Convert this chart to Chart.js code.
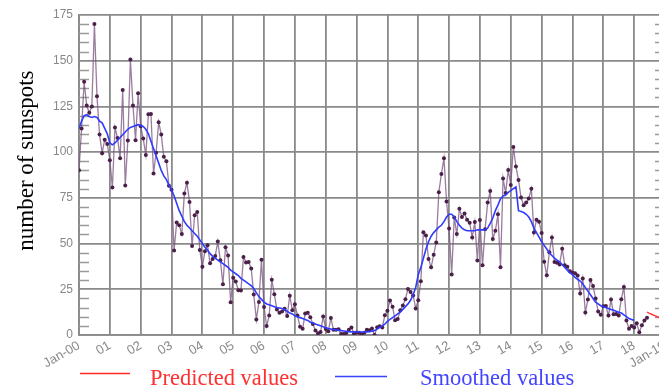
<!DOCTYPE html>
<html><head><meta charset="utf-8">
<script src="https://cdn.jsdelivr.net/npm/chart.js@4.4.1/dist/chart.umd.min.js"></script>
<style>
html,body{margin:0;padding:0;overflow:hidden;background:#fff;width:659px;height:387px}
#wrap{position:relative;width:680px;height:387px}
</style></head>
<body><div id="wrap"><canvas id="c" width="680" height="387"></canvas></div>
<script>
// Monthly sunspot numbers, Jan 2000 - Jun 2018
const observed = [
  90.1,112.9,138.5,125.5,121.6,124.9,170.1,130.5,109.7,99.4,106.8,104.4,
  95.6,80.6,113.5,107.7,96.6,134.0,81.8,106.4,150.7,125.5,106.5,132.2,
  114.1,107.4,98.4,120.7,120.8,88.3,99.6,116.4,109.6,97.5,95.0,81.6,
  79.5,46.2,61.5,60.0,55.2,77.4,83.3,72.7,48.7,65.5,67.3,46.5,
  37.3,45.8,49.1,39.3,41.5,43.2,51.1,40.9,27.7,48.0,43.5,17.9,
  31.3,29.2,24.5,24.4,42.6,39.6,39.9,36.4,22.1,8.5,18.0,41.2,
  15.3,4.9,10.6,30.2,22.3,13.9,12.2,12.9,14.4,10.4,21.5,13.6,
  16.8,10.7,4.5,3.4,11.7,12.1,9.7,6.0,2.4,0.9,1.7,10.1,
  3.3,2.1,9.3,2.9,2.9,3.1,0.5,0.5,1.1,2.9,4.1,0.8,
  1.3,1.2,0.6,1.2,2.9,2.6,3.5,0.0,4.3,4.8,4.1,10.8,
  13.2,18.8,15.4,8.0,8.7,13.6,16.1,19.6,25.2,23.5,21.6,14.5,
  19.0,29.4,56.2,54.4,41.6,37.0,43.9,50.6,78.0,88.0,96.7,73.0,
  58.3,33.1,64.3,55.2,69.0,64.5,66.5,63.0,61.4,53.3,61.8,40.8,
  62.9,38.1,57.9,72.4,78.7,52.5,57.0,66.0,37.0,85.6,77.6,90.3,
  82.0,102.8,92.2,84.7,75.2,71.0,72.4,74.6,80.0,56.0,63.0,62.0,
  55.8,40.0,32.7,45.2,53.3,39.9,39.5,38.6,47.2,38.2,37.3,34.8,
  34.2,33.8,32.5,22.7,30.9,12.3,19.4,30.1,26.8,20.0,12.8,11.1,
  15.7,15.8,10.6,19.4,11.3,11.5,10.7,19.6,26.2,7.9,3.4,4.9,
  4.1,6.4,1.5,5.3,7.9,9.4
];
// Smoothed values, Jan 2000 - Jan 2018
const smoothed = [
  113,117,120,120.5,119.5,119,119.5,119,117,116,113,110,
  105,104,105,106.5,108,109.5,111,112.5,113.5,114,114.5,115,
  114.5,114,112.5,110,106,102,98,94,90,87,85,82,
  79.5,76,72,68,65,62,60,58.5,57,55.5,54,52,
  50,48,46.5,44.5,43,42,41,40,39,38,37,35.5,
  34.5,33.5,32.5,31,30,29,28,27,25.5,23,21,19.5,
  18,17,16.5,16,15.5,15,14.8,14.5,14,13,12,11.5,
  10.5,10,9.5,9,8.5,8,7,6.5,6,5.5,5,4.5,
  4,3.5,3.2,3,2.8,2.6,2.4,2.2,2,1.8,1.7,1.7,
  1.6,1.6,1.6,1.6,1.7,1.8,2.0,2.5,3.2,4.2,5.0,6.0,
  7.5,8.5,9.5,10.5,11.5,12.5,14,15.5,17,19,22,26,
  33,37,42,47,51,54,56,57.5,59,60,62,64.5,
  66,66,64.5,62,60,58.5,57.5,57,57,57,57,57.5,
  57.5,57.5,57.5,58.5,61,64,68,71,74.5,76,76.5,78,
  79,80,81,68,67.5,67,66,64.5,62,58.5,56,53.5,
  51,49,47,45,43.5,42,41,40,38.5,37,35.5,34,
  33,31.5,30.5,29.5,28,26,24,22,20,18,17,16,
  15.5,15,14.5,14,13.5,13,12.5,12,11,10,9,8.5,
  8
];
// Predicted values, Jun 2018 - Jan 2019
const predictedStartMonth = 221;
const predicted = [12.5,11.8,11.2,10.6,10.0,9.4,8.9,8.4];

const yMajorTicks = [0,25,50,75,100,125,150,175];
const xTickLabels = ['Jan-00','01','02','03','04','05','06','07','08','09','10','11','12','13','14','15','16','17','18','Jan-19'];
const legendLabels = ['Predicted values','Smoothed values'];
const yTitle = 'number of sunspots';

const toPts = (arr, start) => arr.map((v,i)=>({x:(start+i)/12, y:v}));

const GRID = '#8a8a8a';
const TICKC = '#888888';

const minorTicks = {
  id:'minorTicks',
  beforeDatasetsDraw(chart){
    const {ctx, chartArea:a, scales:{y}} = chart;
    ctx.save();
    ctx.strokeStyle = '#9a9a9a'; ctx.lineWidth = 1.4;
    for (let v=5; v<175; v+=5){
      if (yMajorTicks.includes(v)) continue;
      const py = Math.round(y.getPixelForValue(v))+0.5;
      ctx.beginPath();
      ctx.moveTo(a.left, py); ctx.lineTo(a.left+10, py);
      ctx.moveTo(a.right-10, py); ctx.lineTo(a.right, py);
      ctx.stroke();
    }
    ctx.restore();
  }
};

const extras = {
  id:'extras',
  afterDraw(chart){
    const {ctx, chartArea:a} = chart;
    ctx.save();
    // y-axis title
    ctx.translate(27, a.top + a.height*0.455);
    ctx.rotate(-Math.PI/2);
    ctx.font = '23px "Liberation Serif", "Times New Roman", serif';
    ctx.fillStyle = '#000';
    ctx.textAlign = 'center'; ctx.textBaseline = 'middle';
    ctx.fillText(yTitle, 0, 0);
    ctx.restore();
    // legend
    ctx.save();
    ctx.font = '22.5px "Liberation Serif", "Times New Roman", serif';
    ctx.textBaseline = 'alphabetic'; ctx.textAlign = 'left';
    ctx.lineWidth = 1.5;
    ctx.strokeStyle = '#ff2a2a';
    ctx.beginPath(); ctx.moveTo(80,373.5); ctx.lineTo(130,373.5); ctx.stroke();
    ctx.fillStyle = '#ff3030';
    ctx.fillText(legendLabels[0], 150, 385);
    ctx.strokeStyle = '#3a44ff';
    ctx.beginPath(); ctx.moveTo(335,376.5); ctx.lineTo(387,376.5); ctx.stroke();
    ctx.fillStyle = '#4444ff';
    ctx.fillText(legendLabels[1], 420, 385);
    ctx.restore();
  }
};

new Chart(document.getElementById('c'), {
  type:'line',
  data:{datasets:[
    {label:'Monthly values', data:toPts(observed,0), borderColor:'rgba(120,80,125,0.75)', borderWidth:1.3,
     pointRadius:2, pointBackgroundColor:'#4a1f48', pointBorderWidth:0, tension:0, order:3},
    {label:legendLabels[1], data:toPts(smoothed,0), borderColor:'#2f3cff', borderWidth:1.6, pointRadius:0, tension:0, order:1},
    {label:legendLabels[0], data:toPts(predicted,predictedStartMonth), borderColor:'#ff3b3b', borderWidth:1.5, pointRadius:0, tension:0, order:2}
  ]},
  options:{
    responsive:false, animation:false, devicePixelRatio:1,
    layout:{padding:{left:0,top:15,right:15,bottom:0}},
    plugins:{legend:{display:false}, tooltip:{enabled:false}},
    scales:{
      x:{type:'linear', min:0, max:19,
        afterFit(s){ s.height = 52; },
        ticks:{stepSize:1, autoSkip:false, minRotation:30, maxRotation:30, padding:3,
          color:TICKC, font:{family:'"Liberation Sans", Arial, sans-serif', size:13},
          callback:(v)=>xTickLabels[Math.round(v)]},
        grid:{color:GRID, lineWidth:1.8, drawTicks:false},
        border:{color:GRID, width:1.8}
      },
      y:{min:0, max:175,
        afterFit(s){ s.width = 79; },
        ticks:{stepSize:5, autoSkip:false, padding:6, color:TICKC,
          font:{family:'"Liberation Sans", Arial, sans-serif', size:12},
          callback:(v)=> yMajorTicks.includes(v) ? String(v) : ''},
        grid:{color:(c)=> (c.tick && yMajorTicks.includes(c.tick.value)) ? GRID : 'rgba(0,0,0,0)', lineWidth:1.8, drawTicks:false},
        border:{color:GRID, width:1.8}
      }
    }
  },
  plugins:[minorTicks, extras]
});
</script></body></html>
